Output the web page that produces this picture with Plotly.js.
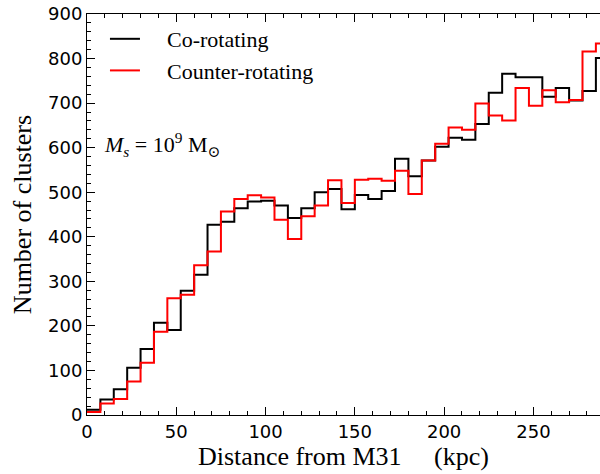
<!DOCTYPE html>
<html>
<head>
<meta charset="utf-8">
<script src="https://cdn.plot.ly/plotly-3.0.1.min.js"></script>
<style>html,body{margin:0;padding:0;background:#fff;}#chart{width:600px;height:474px;}</style>
</head>
<body>
<div id="chart"></div>
<script>
// Histogram bin width (kpc) and counts per bin, starting at 0 kpc
const binWidth = 7.5;
const coRotating = [12, 35, 58, 106, 148, 207, 191, 279, 315, 427, 434, 464, 479, 481, 470, 442, 464, 500, 507, 462, 494, 485, 503, 575, 536, 571, 602, 622, 618, 653, 723, 766, 758, 758, 714, 734, 706, 727, 801];
const counterRotating = [7, 26, 36, 75, 117, 187, 262, 270, 336, 367, 457, 485, 493, 488, 438, 395, 446, 470, 527, 476, 528, 530, 526, 548, 496, 571, 609, 645, 640, 699, 672, 661, 734, 694, 729, 702, 707, 816, 834];
const seriesNames = ["Co-rotating", "Counter-rotating"];
const xTicks = [0, 50, 100, 150, 200, 250];
const yTicks = [0, 100, 200, 300, 400, 500, 600, 700, 800, 900];

function stepXY(counts) {
  const x = [], y = [];
  for (let i = 0; i < counts.length; i++) { x.push(i * binWidth); y.push(counts[i]); }
  x.push(counts.length * binWidth); y.push(counts[counts.length - 1]);
  return {x, y};
}
const a = stepXY(coRotating), b = stepXY(counterRotating);

const serif = "Liberation Serif, DejaVu Serif, serif";
const pad = '&nbsp;&nbsp;&nbsp;&nbsp;';
const traces = [
  {x: a.x, y: a.y, type: 'scatter', mode: 'lines', line: {shape: 'hv', color: '#000000', width: 2}, name: pad + seriesNames[0]},
  {x: b.x, y: b.y, type: 'scatter', mode: 'lines', line: {shape: 'hv', color: '#ff0000', width: 2}, name: pad + seriesNames[1]}
];

const layout = {
  width: 600, height: 474,
  margin: {l: 87, r: 0, t: 14, b: 59},
  paper_bgcolor: '#fff', plot_bgcolor: '#fff',
  showlegend: true,
  legend: {x: 0.035, y: 0.99, xanchor: 'left', yanchor: 'top', bgcolor: 'rgba(0,0,0,0)',
           font: {family: serif, size: 22, color: '#000'}, itemwidth: 30},
  xaxis: {
    range: [0, 287.3], tickvals: xTicks, ticktext: xTicks.map(String),
    ticks: 'inside', ticklen: 8, tickwidth: 1, tickcolor: '#000',
    showline: true, linecolor: '#000', linewidth: 1, mirror: 'allticks',
    showgrid: false, zeroline: false,
    minor: {dtick: 10, ticks: 'inside', ticklen: 4, tickcolor: '#000', showgrid: false},
    tickfont: {family: 'DejaVu Sans, sans-serif', size: 18, color: '#000'},
    title: {text: 'Distance from M31&nbsp;&nbsp;&nbsp;&nbsp;&nbsp;(kpc)', font: {family: serif, size: 26, color: '#000'}, standoff: 4}
  },
  yaxis: {
    range: [0, 900], tickvals: yTicks, ticktext: yTicks.map(String),
    ticks: 'inside', ticklen: 8, tickwidth: 1, tickcolor: '#000',
    showline: true, linecolor: '#000', linewidth: 1, mirror: false,
    showgrid: false, zeroline: false,
    minor: {dtick: 20, ticks: 'inside', ticklen: 4, tickcolor: '#000', showgrid: false},
    tickfont: {family: 'DejaVu Sans, sans-serif', size: 18, color: '#000'},
    title: {text: 'Number of clusters', font: {family: serif, size: 26, color: '#000'}, standoff: 8}
  },
  annotations: [{
    xref: 'paper', yref: 'paper', x: 0.03, y: 0.675, xanchor: 'left', yanchor: 'middle', showarrow: false,
    text: '<i>M</i><sub><i>s</i></sub> = 10<sup>9</sup> M<sub>⊙</sub>',
    font: {family: serif, size: 22, color: '#000'}
  }]
};
Plotly.newPlot('chart', traces, layout, {staticPlot: true, displayModeBar: false});
</script>
</body>
</html>
